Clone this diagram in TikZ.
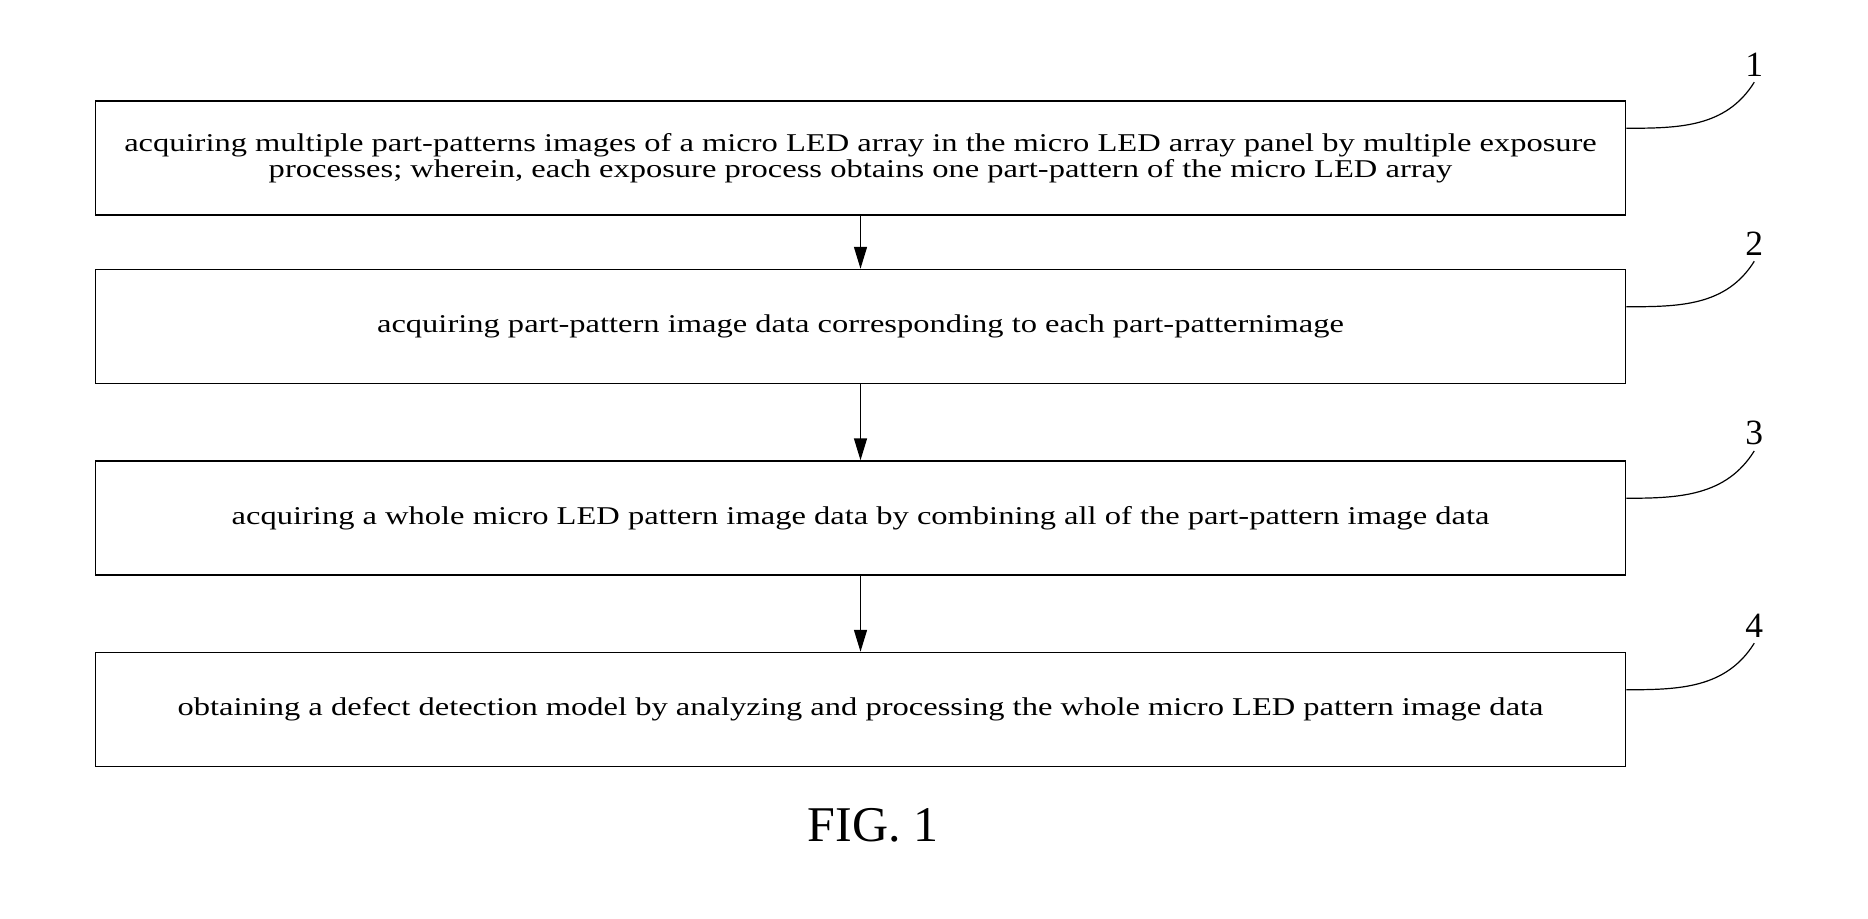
\documentclass[tikz,border=0pt]{standalone}
\usepackage{fontspec}
\setmainfont{Liberation Serif}
\newfontfamily\widefont[FakeStretch=1.27]{Liberation Serif}
\usepackage{tikz}
\usetikzlibrary{calc,arrows.meta}
\usetikzlibrary{positioning}
\tikzstyle{flow}=[
  >={Triangle[length=11pt,width=6.5pt]}, line width=0.75pt
]
\tikzstyle{procbox}=[
  draw,rectangle,line width=0.75pt,minimum width=765pt,minimum height=57pt,
  inner sep=0pt,align=center,font=\widefont\fontsize{12.8}{13}\selectfont
]
\tikzstyle{refnum}=[
  inner sep=2.5pt,font=\fontsize{17.75}{18}\selectfont
]
\tikzstyle{leader}=[
  line width=0.6pt
]
\tikzstyle{caption}=[
  font=\fontsize{25}{26}\selectfont
]

\begin{document}
\begin{tikzpicture}[flow]
    \useasboundingbox (0,0) rectangle (934pt,-459pt);
    \node (s1) at (430.25pt,-79pt) [procbox] {acquiring multiple part-patterns images of a micro LED array in the micro LED array panel by multiple exposure\\processes; wherein, each exposure process obtains one part-pattern of the micro LED array};
    \node (s2) [procbox, below=26.5pt of s1] {acquiring part-pattern image data corresponding to each part-patternimage};
    \node (s3) [procbox, below=38pt of s2] {acquiring a whole micro LED pattern image data by combining all of the part-pattern image data};
    \node (s4) [procbox, below=38pt of s3] {obtaining a defect detection model by analyzing and processing the whole micro LED pattern image data};
    \node (fig) at (436.5pt,-412.75pt) [caption] {FIG. 1};
    % reference numerals
    \node (n1) at ($(s1.north east)+(64pt,17.75pt)$) [refnum] {1};
    \node (n2) at ($(s2.north east)+(64pt,12.5pt)$) [refnum] {2};
    \node (n3) at ($(s3.north east)+(64pt,13.5pt)$) [refnum] {3};
    \node (n4) at ($(s4.north east)+(64pt,13pt)$) [refnum] {4};
    \coordinate (c1) at ($(s1.north east)+(0,-14pt)$);
    \coordinate (c2) at ($(s2.north east)+(0,-19pt)$);
    \coordinate (c3) at ($(s3.north east)+(0,-19pt)$);
    \coordinate (c4) at ($(s4.north east)+(0,-19pt)$);
    \foreach \i in {1,...,4}
      \draw [leader] (c\i) to[out=0,in=238] (n\i.south);
    \draw [->] (s1) -- (s2);
    \draw [->] (s2) -- (s3);
    \draw [->] (s3) -- (s4);
  \end{tikzpicture}
\end{document}
